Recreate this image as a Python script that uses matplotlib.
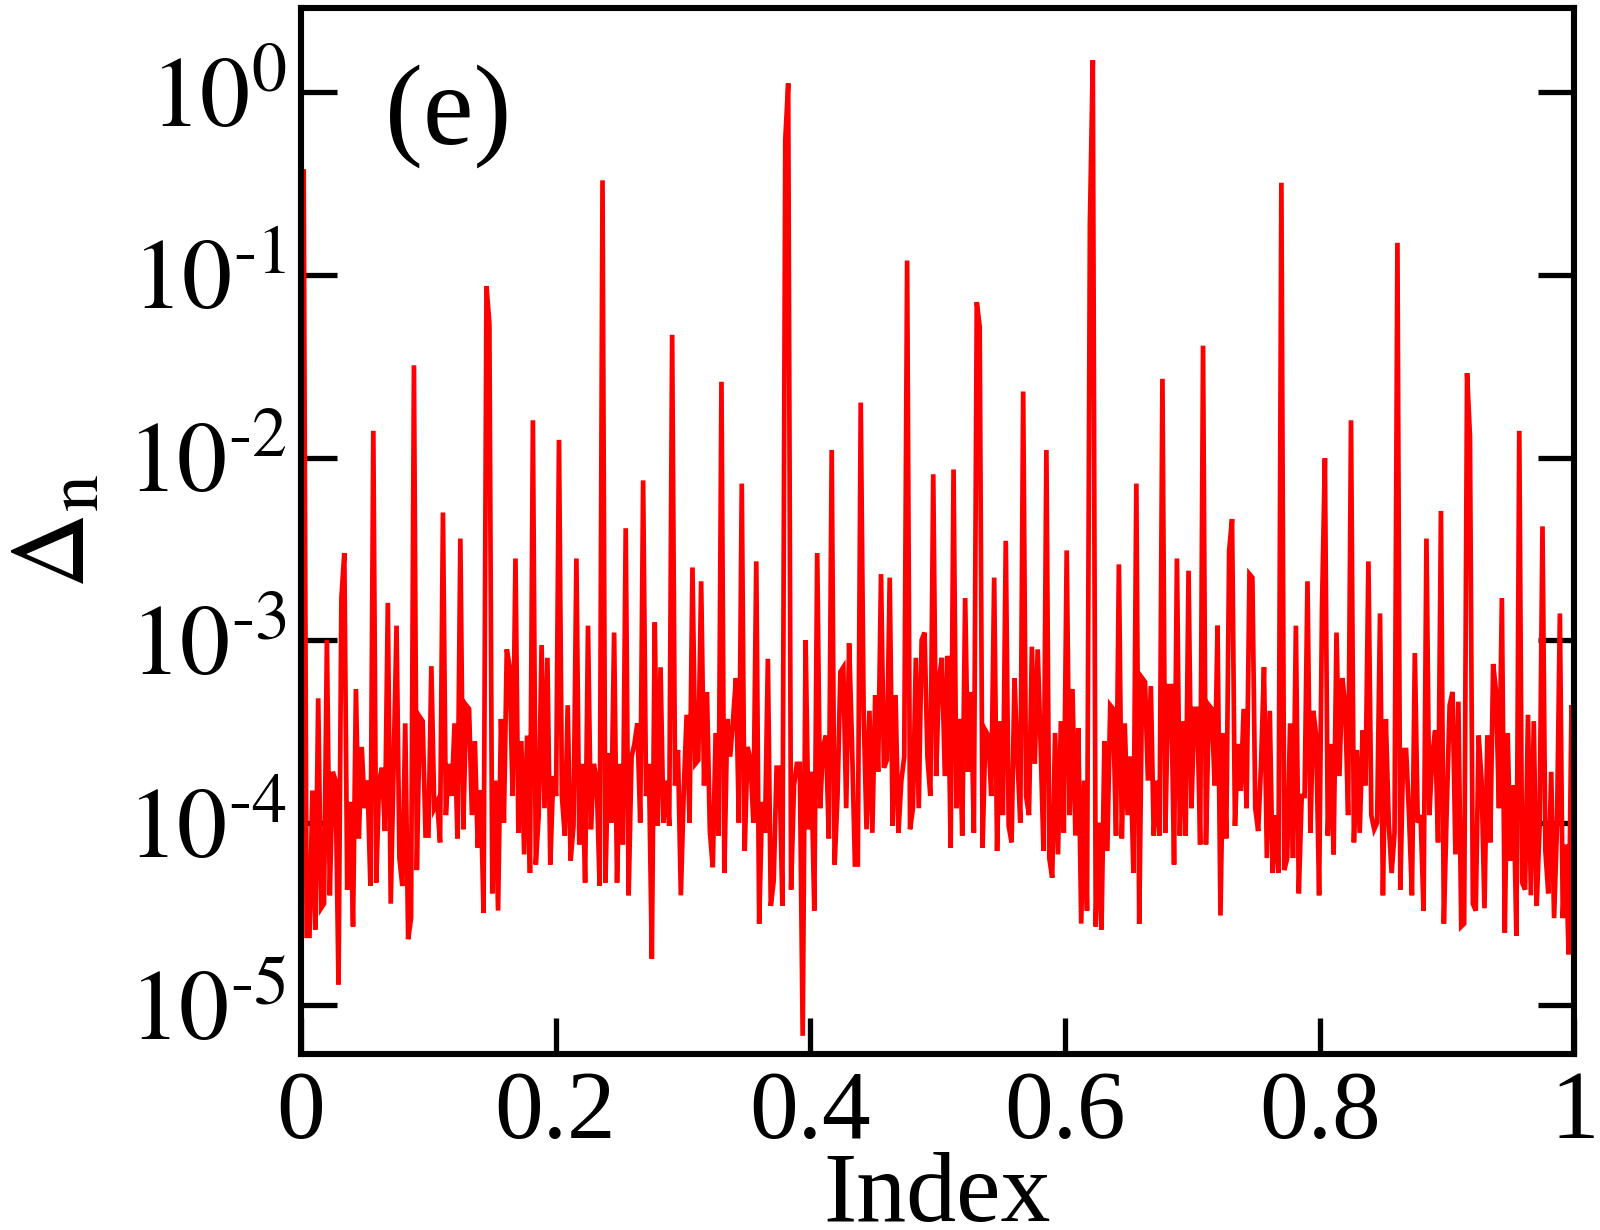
import numpy as np
import matplotlib
matplotlib.use("Agg")
import matplotlib.pyplot as plt

plt.rcParams["font.family"] = ["Liberation Serif", "DejaVu Serif"]
plt.rcParams["mathtext.fontset"] = "stix"

# Delta_n, left to right, in 12 consecutive stretches
delta_seg01 = [2.4e-5, 0.38, 2.4e-5, 2.4e-5, 1.5e-4, 2.6e-5, 4.8e-4, 3.4e-5, 3.6e-5, 1.0e-3,
               4.0e-5, 1.9e-4, 1.7e-4, 1.3e-5, 1.7e-3, 3.0e-3, 4.3e-5, 1.3e-4, 2.7e-5, 5.4e-4,
               8.2e-5, 2.6e-4, 1.2e-4, 1.7e-4, 4.5e-5, 1.4e-2, 4.7e-5, 1.7e-4, 2.0e-4, 9.0e-5,
               1.6e-3, 3.6e-5, 2.1e-4, 1.2e-3, 6.4e-5, 4.5e-5, 3.5e-4]
delta_seg02 = [2.3e-5, 3.0e-5, 3.2e-2, 5.5e-5, 3.8e-4, 3.6e-4, 8.5e-5, 8.5e-5, 7.2e-4, 1.2e-4,
               1.3e-4, 7.8e-5, 5.0e-3, 1.1e-4, 2.1e-4, 1.4e-4, 3.5e-4, 8.2e-5, 3.6e-3, 9.2e-5,
               4.4e-4, 4.2e-4, 1.1e-4, 2.8e-4, 7.3e-5, 1.5e-4, 3.2e-5, 8.7e-2, 5.4e-2, 4.1e-5,
               1.7e-4, 3.3e-5, 3.7e-4, 1.0e-4, 8.9e-4, 7.1e-4, 1.4e-4, 2.8e-3]
delta_seg03 = [8.8e-5, 2.8e-4, 6.7e-5, 3.0e-4, 5.3e-5, 1.6e-2, 5.9e-5, 1.1e-4, 9.4e-4, 1.2e-4,
               8.0e-4, 5.9e-5, 1.8e-4, 1.4e-4, 1.25e-2, 1.4e-4, 8.5e-5, 4.4e-4, 6.2e-5, 9.6e-5,
               2.8e-3, 7.6e-5, 2.1e-4, 4.7e-5, 1.2e-3, 9.2e-5, 2.1e-4, 1.7e-4, 4.5e-5, 0.33,
               4.7e-5, 2.4e-4, 1.0e-4, 1.1e-3, 4.7e-5]
delta_seg04 = [2.1e-4, 7.6e-5, 4.1e-3, 4.0e-5, 2.3e-4, 2.7e-4, 3.5e-4, 1.0e-4, 7.5e-3, 1.4e-4,
               2.1e-4, 1.8e-5, 1.25e-3, 9.6e-5, 7.1e-4, 1.0e-4, 1.7e-4, 9.6e-5, 4.7e-2, 1.6e-4,
               2.5e-4, 4.0e-5, 1.5e-4, 3.9e-4, 1.0e-4, 2.5e-3, 2.1e-4, 2.2e-4, 2.1e-3, 1.6e-4,
               5.2e-4, 9.0e-5, 5.7e-5, 3.1e-4, 8.5e-5, 2.6e-2, 5.3e-5, 3.7e-4]
delta_seg05 = [2.3e-4, 3.7e-4, 6.2e-4, 1.0e-4, 7.2e-3, 7.0e-5, 2.6e-4, 2.2e-4, 1.0e-4, 2.7e-3,
               2.8e-5, 1.3e-4, 8.8e-5, 7.9e-4, 3.5e-5, 4.8e-5, 2.0e-4, 2.0e-4, 3.5e-5, 0.55,
               1.12, 4.3e-5, 1.6e-4, 2.1e-4, 2.1e-4, 6.8e-6, 1.0e-3, 9.2e-5, 1.9e-4, 3.3e-5,
               3.0e-3, 1.2e-4, 2.6e-4, 3.0e-4, 8.2e-5, 1.1e-2, 5.9e-5]
delta_seg06 = [1.4e-4, 6.7e-4, 7.1e-4, 1.2e-4, 9.6e-4, 2.7e-4, 5.9e-5, 5.9e-5, 2.0e-2, 4.1e-4,
               9.2e-5, 4.1e-4, 8.8e-5, 5.0e-4, 1.9e-4, 2.3e-3, 2.0e-4, 2.2e-4, 2.2e-3, 9.6e-5,
               5.0e-4, 8.8e-5, 1.7e-4, 2.3e-4, 0.12, 9.2e-5, 1.2e-4, 8.0e-4, 1.2e-4, 1.0e-3,
               1.1e-3, 2.3e-4, 1.4e-4, 8.1e-3, 1.8e-4, 6.2e-4, 8.0e-4]
delta_seg07 = [1.8e-4, 8.2e-4, 7.3e-5, 8.6e-3, 1.2e-4, 3.7e-4, 8.5e-5, 1.7e-3, 1.9e-4,
               5.2e-4, 8.8e-5, 7.1e-2, 5.2e-2, 7.3e-5, 3.2e-4, 3.0e-4, 1.4e-4, 2.2e-3,
               7.0e-5, 3.6e-4, 1.1e-4, 3.5e-3, 9.6e-5, 7.8e-5, 6.2e-4, 2.3e-4, 1.0e-4, 2.3e-2,
               1.4e-4, 1.1e-4, 9.2e-4, 2.1e-4, 8.9e-4, 2.7e-4, 7.0e-5, 1.1e-2, 6.4e-5]
delta_seg08 = [5.0e-5, 3.1e-4, 6.7e-5, 3.6e-4, 8.8e-5, 3.1e-3, 1.1e-4, 5.4e-4,
               8.5e-5, 3.3e-4, 2.8e-5, 1.7e-4, 3.3e-5, 0.19, 1.5, 2.7e-5, 1.0e-4, 2.6e-5,
               2.8e-4, 7.0e-5, 4.4e-4, 4.2e-4, 8.5e-5, 2.6e-3, 8.2e-5, 3.5e-4, 1.1e-4, 2.3e-4,
               5.3e-5, 7.2e-3, 2.8e-5, 6.2e-4, 5.9e-4, 1.7e-4, 5.6e-4, 8.5e-5]
delta_seg09 = [1.7e-4, 8.5e-5, 2.7e-2, 8.8e-5, 5.6e-4, 5.6e-4, 5.9e-5, 2.8e-3, 8.5e-5, 3.6e-4,
               8.5e-5, 2.4e-3, 1.2e-4, 4.2e-4, 4.2e-4, 7.6e-5, 4.1e-2, 7.6e-5, 4.4e-4, 4.2e-4,
               1.6e-4, 1.2e-3, 3.1e-5, 3.1e-4, 8.2e-5, 3.1e-3, 4.6e-3, 9.6e-5, 2.7e-4, 1.5e-4,
               4.2e-4, 1.2e-4, 2.3e-3, 2.2e-3, 1.2e-4, 9.0e-5, 2.1e-4, 7.1e-4]
delta_seg10 = [6.4e-5, 4.1e-4, 5.3e-5, 1.1e-4, 5.3e-5, 0.32, 5.5e-5, 6.4e-5, 3.5e-4, 6.4e-5,
               1.2e-3, 4.1e-5, 1.4e-4, 1.4e-4, 2.1e-3, 8.8e-5, 4.1e-4, 3.0e-4, 4.0e-5, 1.5e-3,
               9.9e-3, 8.5e-5, 2.7e-4, 6.7e-5, 1.1e-3, 1.8e-4, 6.2e-4, 4.4e-4, 1.1e-4, 1.6e-2,
               7.8e-5, 2.5e-4, 8.8e-5, 3.2e-4, 1.6e-4, 2.7e-3, 1.1e-4]
delta_seg11 = [9.2e-5, 1.0e-4, 1.4e-3, 4.0e-5, 3.7e-4, 1.0e-4, 5.3e-5, 8.8e-5, 0.15, 4.3e-5,
               2.5e-4, 2.5e-4, 1.1e-4, 4.0e-5, 8.5e-4, 1.0e-4, 1.1e-4, 3.3e-5, 3.6e-3, 1.1e-4,
               2.3e-4, 3.2e-4, 7.8e-5, 5.1e-3, 2.8e-5, 1.2e-4, 4.4e-4, 5.2e-4, 6.7e-5, 4.6e-4,
               2.7e-5, 2.8e-5, 2.9e-2, 1.3e-2, 3.6e-5, 3.3e-5, 3.0e-4]
delta_seg12 = [1.7e-4, 3.4e-5, 3.0e-4, 7.8e-5, 7.4e-4, 5.2e-4, 1.2e-4, 1.7e-3, 2.5e-5, 3.1e-4,
               6.2e-5, 1.6e-4, 2.4e-5, 1.4e-2, 4.7e-5, 4.3e-5, 3.9e-4, 4.0e-5, 3.6e-4, 3.5e-5,
               9.6e-5, 4.2e-3, 7.0e-5, 4.1e-5, 1.9e-4, 3.0e-5, 9.6e-5, 1.4e-3, 3.0e-5, 7.6e-5,
               1.9e-5, 4.4e-4, 8.8e-5]

x_ticks = [0, 0.2, 0.4, 0.6, 0.8, 1.0]
x_tick_labels = ["0", "0.2", "0.4", "0.6", "0.8", "1"]
y_exponents = [0, -1, -2, -3, -4, -5]

delta = np.concatenate([delta_seg01, delta_seg02, delta_seg03, delta_seg04,
                        delta_seg05, delta_seg06, delta_seg07, delta_seg08,
                        delta_seg09, delta_seg10, delta_seg11, delta_seg12])
# index n/N runs evenly over [0, 1]
index = np.linspace(0, 1, len(delta))


def decade_label(e):
    # plain hyphen in the exponent, like the original
    if e < 0:
        return r"$10^{\text{-}%d}$" % (-e)
    return r"$10^{%d}$" % e


fig = plt.figure(figsize=(16, 12.3), dpi=100)
ax = fig.add_axes([0.188, 0.143, 0.796, 0.8505])

ax.plot(index, delta, color="#ff0000", lw=3.4, solid_joinstyle="miter")

ax.set_yscale("log")
ax.set_xlim(0, 1)
ax.set_ylim(5.4e-6, 2.9)

ax.set_xticks(x_ticks)
ax.set_xticklabels(x_tick_labels)
ax.set_yticks([10.0 ** e for e in y_exponents])
ax.set_yticklabels([decade_label(e) for e in y_exponents])
ax.yaxis.set_minor_locator(matplotlib.ticker.NullLocator())

ax.tick_params(axis="both", which="major", direction="in", length=26, width=3.8,
               labelsize=70, pad=12)
ax.tick_params(axis="y", right=True, labelsize=72, pad=10)
for sp in ax.spines.values():
    sp.set_linewidth(4.4)

ax.set_xlabel("Index", fontsize=72, labelpad=-5)
ax.set_ylabel(r"$\Delta_{\mathrm{n}}$", fontsize=76, labelpad=14)
ax.text(0.066, 0.897, "(e)", transform=ax.transAxes, fontsize=82, va="center")

fig.savefig("out.png", dpi=100)
